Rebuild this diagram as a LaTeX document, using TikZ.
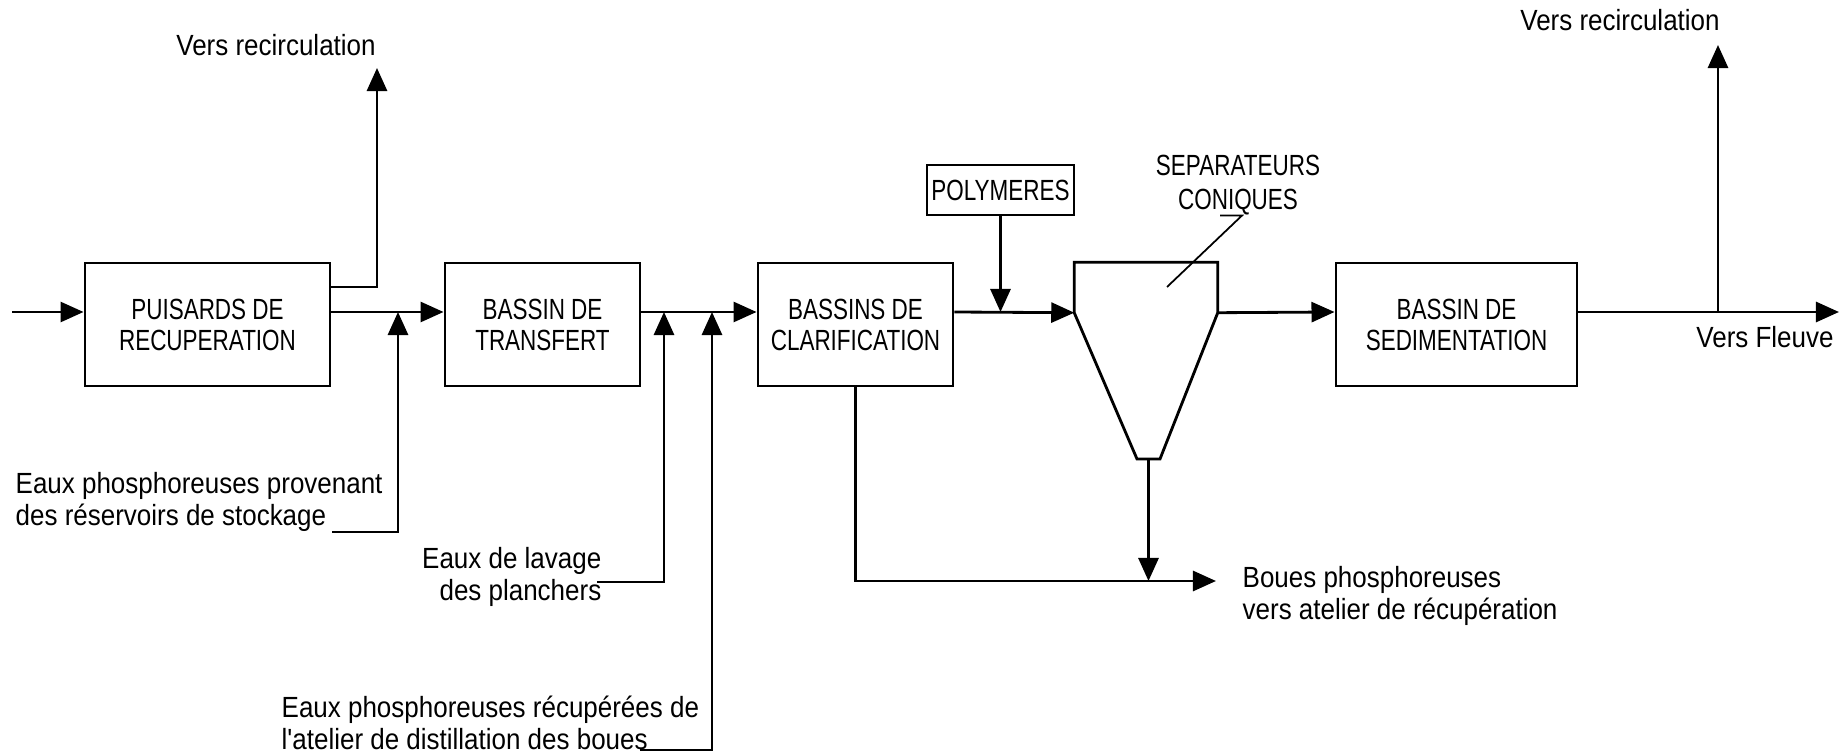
\documentclass[tikz,border=0pt]{standalone}
\usepackage{fontspec}
\newfontfamily\tankfont[FakeStretch=0.77]{Liberation Sans}
\newfontfamily\notefont[FakeStretch=0.89]{Liberation Sans}
\usetikzlibrary{arrows.meta}
\tikzset{
  tank/.style={draw, line width=0.8pt, minimum height=12.3mm, inner sep=0pt,
               align=center, font=\tankfont\fontsize{8.3}{8.8}\selectfont},
  lbl/.style={inner sep=0pt, font=\notefont\fontsize{8.3}{9.1}\selectfont},
  caps/.style={inner sep=0pt, align=center,
               font=\tankfont\fontsize{8.3}{9.6}\selectfont},
  pipe/.style={line width=0.8pt},
  flow/.style={-{Triangle[length=2.3mm,width=2mm]}, line width=0.8pt},
  leader/.style={line width=0.5pt}
}

\begin{document}
\begin{tikzpicture}[x=0.01cm, y=-0.01cm]
  \useasboundingbox (0,0) rectangle (1847,755);
  \coordinate (flow) at (0,312);

  % basins
  \node[tank, minimum width=24.5mm] (puisards) at (207.5,324.5)
    {PUISARDS DE\\RECUPERATION};
  \node[tank, minimum width=19.5mm] (transfert) at (542.5,324.5)
    {BASSIN DE\\TRANSFERT};
  \node[tank, minimum width=19.5mm] (clarif) at (855.5,324.5)
    {BASSINS DE\\CLARIFICATION};
  \node[tank, minimum width=24.1mm] (sedim) at (1456.5,324.5)
    {BASSIN DE\\SEDIMENTATION};
  \node[tank, minimum width=14.7mm, minimum height=5mm] (polym) at (1000.5,190)
    {POLYMERES};

  % conical separator
  \node[minimum width=14.2mm, minimum height=4.9mm, inner sep=0pt] (sep)
    at (1146,287.5) {};
  \draw[pipe] (sep.south west) |- (sep.north east) -- (sep.south east)
    -- (1160,459) -- (1137,459) -- cycle;
  \coordinate (sepbot) at (1148.5,459);
  \coordinate (sepmark) at (1167,287);
  \node[caps] (coniques) at (1238,185) {SEPARATEURS\\CONIQUES};
  \draw[leader] (coniques.south) ++(-18,0) -- ++(22,0) -- (sepmark);

  % labels
  \node[lbl] (recirc1) at (276,45) {Vers recirculation};
  \node[lbl] (recirc2) at (1620,20) {Vers recirculation};
  \node[lbl] (fleuve) at (1765,337) {Vers Fleuve};
  \node[lbl, align=left, anchor=west] (stockage) at (15,502)
    {Eaux phosphoreuses provenant\\des réservoirs de stockage};
  \node[lbl, align=right, anchor=east] (lavage) at (602,576.5)
    {Eaux de lavage\\des planchers};
  \node[lbl, align=left, anchor=west] (distill) at (281,723)
    {Eaux phosphoreuses récupérées de\\l'atelier de distillation des boues};
  \node[lbl, align=left, anchor=west] (boues) at (1242,596)
    {Boues phosphoreuses\\vers atelier de récupération};

  % free ends
  \coordinate (inlet) at (12,312);
  \coordinate (outlet) at (1839,312);
  \coordinate (r1) at (377,68);
  \coordinate (r2) at (1718,45);
  \coordinate (j1) at (398,312);
  \coordinate (j2) at (664,312);
  \coordinate (j3) at (712,312);
  \coordinate (s1) at (332,532);
  \coordinate (s2) at (597,582);
  \coordinate (s3) at (640,750);
  \coordinate (sludge) at (1216,581);

  % main line
  \draw[flow] (inlet) -- (puisards.west |- flow);
  \draw[flow] (puisards.east |- flow) -- (transfert.west |- flow);
  \draw[flow] (puisards.east |- 0,287) -| (r1);
  \draw[flow] (transfert.east |- flow) -- (clarif.west |- flow);
  \draw[flow] (clarif.east |- flow) -- (sep.south west);
  \draw[flow] (polym.south) -- (polym.south |- flow);
  \draw[flow] (sep.south east) -- (sedim.west |- flow);
  \draw[flow] (sedim.east |- flow) -- (outlet);
  \draw[flow] (r2 |- flow) -- (r2);

  % side inputs
  \draw[flow] (s1) -| (j1);
  \draw[flow] (s2) -| (j2);
  \draw[flow] (s3) -| (j3);

  % sludge
  \draw[flow] (clarif.south) |- (sludge);
  \draw[flow] (sepbot) -- (sepbot |- sludge);
\end{tikzpicture}
\end{document}
